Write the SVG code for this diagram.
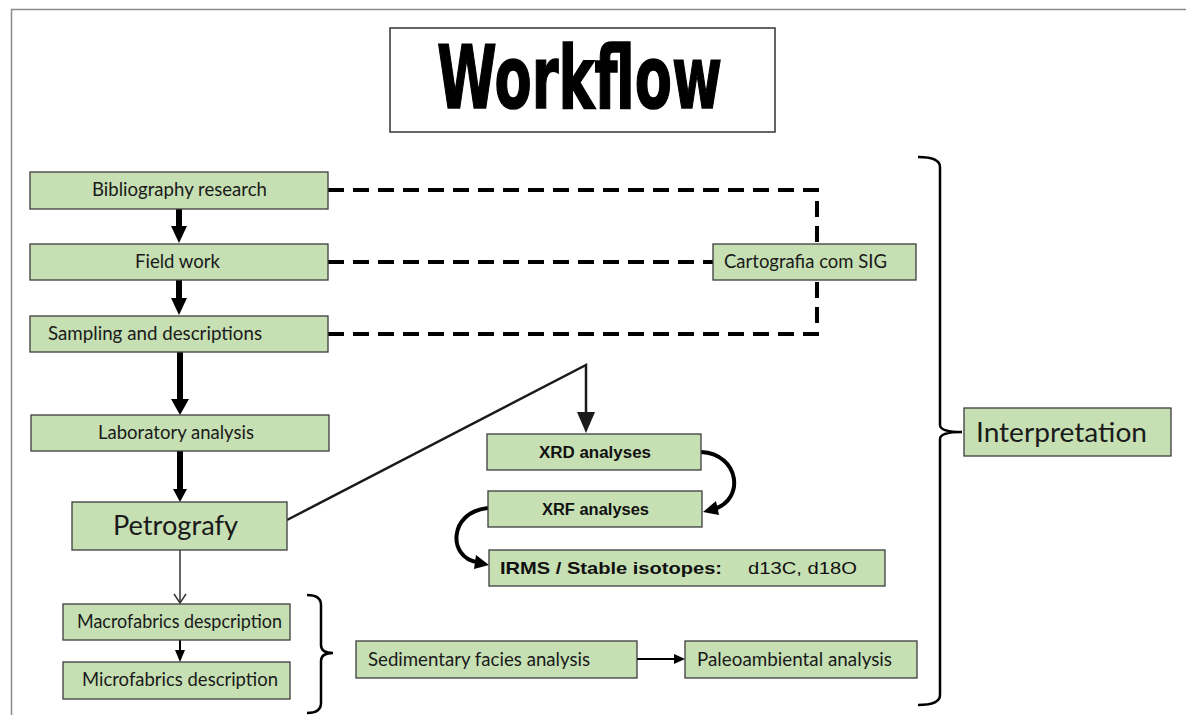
<svg xmlns="http://www.w3.org/2000/svg" width="1186" height="715" viewBox="0 0 1186 715">
<defs>
<style>
.box{fill:#c6e0b4;stroke:#3c3c3c;stroke-width:1.3}
.t{font-family:Lato,"Open Sans","Liberation Sans",sans-serif;font-size:18.5px;fill:#1a1a1a}
.big{font-size:26px}
.tb{font-family:"Liberation Sans",Arial,sans-serif;font-weight:bold;font-size:16px;fill:#111}
.ir{font-family:"Liberation Sans",Arial,sans-serif;font-size:17px;fill:#111}
.dash{fill:none;stroke:#000;stroke-width:4;stroke-dasharray:16 9}
.thick{stroke:#000;stroke-width:6;fill:none}
.blk{fill:#000;stroke:none}
.br{fill:none;stroke:#000;stroke-width:2.5}
</style>
</defs>
<rect width="1186" height="715" fill="#fff"/>
<path d="M11.5,715 V9.5 H1186" fill="none" stroke="#8a8a8a" stroke-width="1.5"/>

<g id="title">
<rect x="390" y="28" width="385" height="104" fill="#fff" stroke="#333" stroke-width="1.5"/>
<text x="579.5" y="108" text-anchor="middle" font-family="'Liberation Sans Narrow','DejaVu Sans Condensed','Liberation Sans',sans-serif" font-weight="bold" font-size="88" textLength="285" lengthAdjust="spacingAndGlyphs" fill="#000" stroke="#000" stroke-width="1.5">Workflow</text>
</g>

<g id="connectors">
<path class="dash" d="M328,190 H817 V262"/>
<path class="dash" d="M328,334 H817 V262"/>
<path class="dash" d="M328,262 H713"/>
<line class="thick" x1="179" y1="209" x2="179" y2="228"/>
<polygon class="blk" points="171,226 187,226 179,243"/>
<line class="thick" x1="179" y1="280" x2="179" y2="300"/>
<polygon class="blk" points="171,298 187,298 179,315"/>
<line class="thick" x1="180" y1="352" x2="180" y2="402"/>
<polygon class="blk" points="171,399 189,399 180,415"/>
<line class="thick" x1="180" y1="451" x2="180" y2="491"/>
<polygon class="blk" points="173,489 187,489 180,502"/>
<line x1="180" y1="550" x2="180" y2="602" stroke="#333" stroke-width="1.5"/>
<path d="M174,594 L180,603 L186,594" fill="none" stroke="#333" stroke-width="1.5"/>
<line x1="180" y1="640" x2="180" y2="652" stroke="#000" stroke-width="2"/>
<polygon class="blk" points="175,650 185,650 180,662"/>
<polyline points="287,520 586,365 586,415" fill="none" stroke="#1a1a1a" stroke-width="2.5"/>
<polygon points="577,412 595,412 586,433" fill="#1a1a1a"/>
<path d="M701,452 C740,454 745,500 714,509" fill="none" stroke="#000" stroke-width="4"/>
<polygon class="blk" points="703,512 716,501 719,515"/>
<path d="M488,508 C448,512 448,558 477,562" fill="none" stroke="#000" stroke-width="4"/>
<polygon class="blk" points="489,565 476,555 474,569"/>
<line x1="637" y1="659" x2="676" y2="659" stroke="#000" stroke-width="2"/>
<polygon class="blk" points="674,654 674,664 685,659"/>
<path class="br" d="M307,595 Q321,595 321,605 V645 Q321,653 333,653 Q321,653 321,661 V703 Q321,713 307,713"/>
<path class="br" d="M918,157 Q940,157 940,167 V425 Q940,432 962,432 Q940,432 940,439 V695 Q940,705 918,705"/>
</g>

<g id="bibliography"><rect class="box" x="30" y="172" width="298" height="37"/><text class="t" x="179.5" y="196" text-anchor="middle" textLength="175" lengthAdjust="spacingAndGlyphs">Bibliography research</text></g>
<g id="fieldwork"><rect class="box" x="30" y="244" width="298" height="36"/><text class="t" x="177.5" y="268" text-anchor="middle" textLength="85" lengthAdjust="spacingAndGlyphs">Field work</text></g>
<g id="sampling"><rect class="box" x="30" y="316" width="298" height="36"/><text class="t" x="48" y="340" textLength="214" lengthAdjust="spacingAndGlyphs">Sampling and descriptions</text></g>
<g id="laboratory"><rect class="box" x="31" y="415" width="298" height="36"/><text class="t" x="176" y="439" text-anchor="middle" textLength="156" lengthAdjust="spacingAndGlyphs">Laboratory analysis</text></g>
<g id="petrografy"><rect class="box" x="72" y="502" width="215" height="48"/><text class="t big" x="175.5" y="535" text-anchor="middle" textLength="125" lengthAdjust="spacingAndGlyphs">Petrografy</text></g>
<g id="macrofabrics"><rect class="box" x="63" y="604" width="227" height="36"/><text class="t" x="77" y="628" textLength="205" lengthAdjust="spacingAndGlyphs">Macrofabrics despcription</text></g>
<g id="microfabrics"><rect class="box" x="63" y="662" width="227" height="37"/><text class="t" x="82" y="686" textLength="196" lengthAdjust="spacingAndGlyphs">Microfabrics description</text></g>
<g id="cartografia"><rect class="box" x="713" y="244" width="203" height="36"/><text class="t" x="724" y="268" textLength="163" lengthAdjust="spacingAndGlyphs">Cartografia com SIG</text></g>
<g id="xrd"><rect class="box" x="487" y="434" width="214" height="36"/><text class="tb" x="595" y="458" text-anchor="middle" textLength="112" lengthAdjust="spacingAndGlyphs">XRD analyses</text></g>
<g id="xrf"><rect class="box" x="488" y="491" width="214" height="36"/><text class="tb" x="595.5" y="515" text-anchor="middle" textLength="107" lengthAdjust="spacingAndGlyphs">XRF analyses</text></g>
<g id="irms"><rect class="box" x="489" y="550" width="396" height="36"/><text class="ir" x="500" y="574" font-weight="bold" textLength="222" lengthAdjust="spacingAndGlyphs">IRMS / Stable isotopes:</text><text class="ir" x="748" y="574" textLength="109" lengthAdjust="spacingAndGlyphs">d13C, d18O</text></g>
<g id="sedimentary"><rect class="box" x="356" y="641" width="281" height="37"/><text class="t" x="368" y="666" textLength="222" lengthAdjust="spacingAndGlyphs">Sedimentary facies analysis</text></g>
<g id="paleoambiental"><rect class="box" x="685" y="641" width="232" height="37"/><text class="t" x="697" y="666" textLength="195" lengthAdjust="spacingAndGlyphs">Paleoambiental analysis</text></g>
<g id="interpretation"><rect class="box" x="964" y="408" width="207" height="48"/><text class="t big" x="976" y="442" textLength="171" lengthAdjust="spacingAndGlyphs">Interpretation</text></g>
</svg>
